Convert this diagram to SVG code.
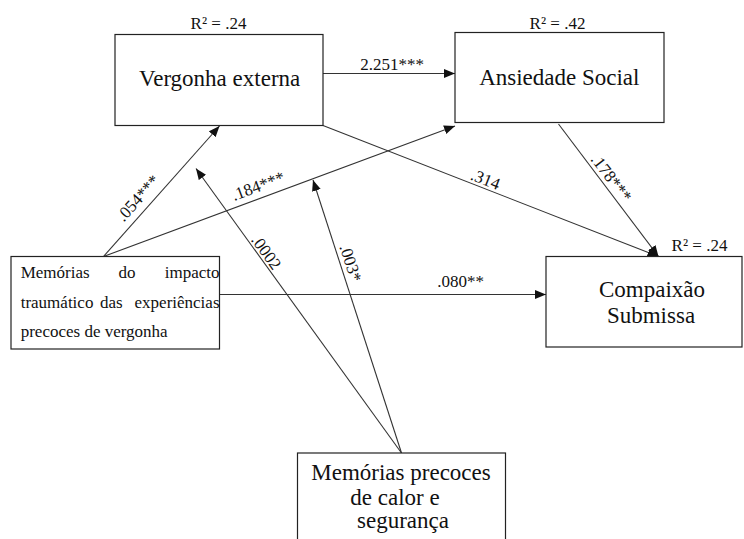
<svg xmlns="http://www.w3.org/2000/svg" width="744" height="539" viewBox="0 0 744 539">
<style>
.box{fill:#fff;stroke:#222;stroke-width:1.2}
.big{font-family:"Liberation Serif","Times New Roman",serif;font-size:23px;fill:#111}
.sm{font-family:"Liberation Serif","Times New Roman",serif;font-size:17px;fill:#111}
.lbl{font-family:"Liberation Serif","Times New Roman",serif;font-size:17px;fill:#111;text-anchor:middle}
.c{text-anchor:middle}
.e{text-anchor:end}
.ln{stroke:#333;stroke-width:1.1;fill:none;marker-end:url(#ah)}
</style>
<defs>
<marker id="ah" markerUnits="userSpaceOnUse" markerWidth="12" markerHeight="10" refX="11" refY="4.5" orient="auto">
<path d="M0,0 L11,4.5 L0,9 z" fill="#111"/>
</marker>
</defs>
<rect width="744" height="539" fill="#fff"/>
<g id="connectors">
<line class="ln" x1="323" y1="73.5" x2="455" y2="73.5"/>
<line class="ln" x1="103.5" y1="256.5" x2="219.5" y2="126"/>
<line class="ln" x1="103.5" y1="256.5" x2="455" y2="126"/>
<line class="ln" x1="323" y1="125.5" x2="658.5" y2="256.5"/>
<line class="ln" x1="558.5" y1="124" x2="658.5" y2="256.5"/>
<line class="ln" x1="219.5" y1="294.5" x2="546" y2="294.5"/>
<line class="ln" x1="401.5" y1="453" x2="196" y2="168.5"/>
<line class="ln" x1="401.5" y1="453" x2="313" y2="180"/>
<text class="lbl" x="392" y="70">2.251***</text>
<text class="lbl" transform="translate(138.5,198.5) rotate(-48.2)" y="5">.054***</text>
<text class="lbl" transform="translate(258.3,186.7) rotate(-20.3)" y="5">.184***</text>
<text class="lbl" transform="translate(265.8,252.5) rotate(54.1)" y="5">.0002</text>
<text class="lbl" transform="translate(350,263.3) rotate(71.9)" y="5">.003*</text>
<text class="lbl" transform="translate(485.3,180) rotate(21.2)" y="5">.314</text>
<text class="lbl" transform="translate(610.8,178.3) rotate(52.6)" y="5">.178***</text>
<text class="lbl" x="460.5" y="287">.080**</text>
</g>
<g id="vergonha-externa">
<rect class="box" x="115" y="34.5" width="208" height="91"/>
<text class="big c" x="219.7" y="86">Vergonha externa</text>
<text class="sm c" x="218.5" y="28.5">R² = .24</text>
</g>
<g id="ansiedade-social">
<rect class="box" x="455" y="32.5" width="209" height="90"/>
<text class="big c" x="559.3" y="85">Ansiedade Social</text>
<text class="sm c" x="557.5" y="29">R² = .42</text>
</g>
<g id="compaixao-submissa">
<rect class="box" x="546" y="256.5" width="196" height="90.5"/>
<text class="big c" x="652" y="297">Compaixão</text>
<text class="big c" x="651" y="323">Submissa</text>
<text class="sm c" x="699.5" y="250.7">R² = .24</text>
</g>
<g id="memorias-impacto">
<rect class="box" x="11" y="256.5" width="208.5" height="92.5"/>
<text class="sm" x="20.7" y="278.3">Memórias</text>
<text class="sm" x="118.5" y="278.3">do</text>
<text class="sm e" x="219.5" y="278.3">impacto</text>
<text class="sm" x="20.7" y="308.3">traumático</text>
<text class="sm" x="100" y="308.3">das</text>
<text class="sm e" x="219.5" y="308.3">experiências</text>
<text class="sm" x="20.7" y="337.3">precoces de vergonha</text>
</g>
<g id="memorias-calor">
<rect class="box" x="297.5" y="453" width="208" height="100"/>
<text class="big c" x="401" y="480">Memórias precoces</text>
<text class="big c" x="395" y="505">de calor e</text>
<text class="big c" x="403" y="527.5">segurança</text>
</g>
</svg>
